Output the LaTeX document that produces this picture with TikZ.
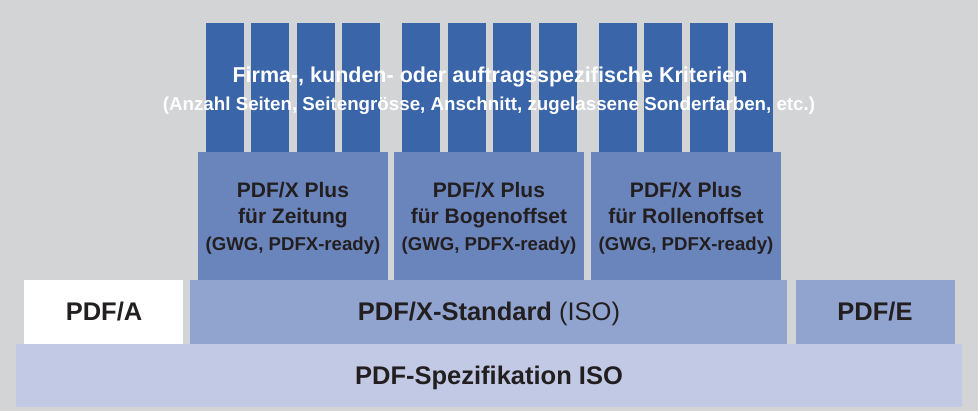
\documentclass[tikz,border=0pt]{standalone}
\usepackage{fontspec}
\setmainfont{Liberation Sans}
\usetikzlibrary{fit}
\definecolor{bgc}{HTML}{D3D4D6}
\definecolor{colc}{HTML}{3A66A9}
\definecolor{midc}{HTML}{6A84BC}
\definecolor{stdc}{HTML}{91A4CF}
\definecolor{specc}{HTML}{C2C9E4}
\definecolor{txtc}{HTML}{231F20}
\begin{document}
\begin{tikzpicture}[x=1pt,y=-1pt,
  blk/.style={inner sep=0pt, outer sep=0pt, draw=none},
  bigtxt/.style={inner sep=0pt, anchor=base, text=txtc, font=\fontsize{25.5}{30}\selectfont},
  midtxt/.style={inner sep=0pt, anchor=base, text=txtc, font=\fontsize{21}{25}\selectfont\bfseries},
  smalltxt/.style={inner sep=0pt, anchor=base, text=txtc, font=\fontsize{18.6}{22}\selectfont\bfseries},
  toptxt/.style={inner sep=0pt, anchor=base, text=white}]
\fill[bgc] (0,0) rectangle (978,411);
\useasboundingbox (0,0) rectangle (978,411);
% columns
\foreach \xl [count=\i] in {206,251,297,342,402,448,493,539,599,644,690,735}{
  \node[blk, fill=colc, fit={(\xl,23) (\xl+38,152)}] (c\i) {};
}
% top text
\node[toptxt, font=\fontsize{21.5}{25}\selectfont\bfseries] (t1) at (490,83) {Firma-, kunden- oder auftragsspezifische Kriterien};
\node[toptxt, font=\fontsize{18.75}{22}\selectfont\bfseries] (t2) at (489,111) {(Anzahl Seiten, Seitengrösse, Anschnitt, zugelassene Sonderfarben, etc.)};
% middle boxes
\node[blk, fill=midc, fit={(198,152) (388,280)}] (b1) {};
\node[blk, fill=midc, fit={(394,152) (584,280)}] (b2) {};
\node[blk, fill=midc, fit={(591,152) (781,280)}] (b3) {};
\foreach \b/\cx/\name in {b1/293/Zeitung, b2/489/Bogenoffset, b3/686/Rollenoffset}{
  \node[midtxt] (\b l1) at (\cx,198) {PDF/X Plus};
  \node[midtxt] (\b l2) at (\cx,224) {für \name};
  \node[smalltxt] (\b l3) at (\cx,251) {(GWG, PDFX-ready)};
}
% bottom row
\node[blk, fill=white, fit={(24,280) (183,344)}] (pdfa) {};
\node[blk, fill=stdc, fit={(190,280) (787,344)}] (pdfx) {};
\node[blk, fill=stdc, fit={(796,280) (955,344)}] (pdfe) {};
\node[blk, fill=specc, fit={(16,344) (962,407)}] (spec) {};
\node[bigtxt] (pdfat) at (104,321) {\bfseries PDF/A};
\node[bigtxt] (pdfxt) at (489,321) {\textbf{PDF/X-Standard} (ISO)};
\node[bigtxt] (pdfet) at (875,321) {\bfseries PDF/E};
\node[bigtxt] (spect) at (489,385) {\bfseries PDF-Spezifikation ISO};
\end{tikzpicture}
\end{document}
